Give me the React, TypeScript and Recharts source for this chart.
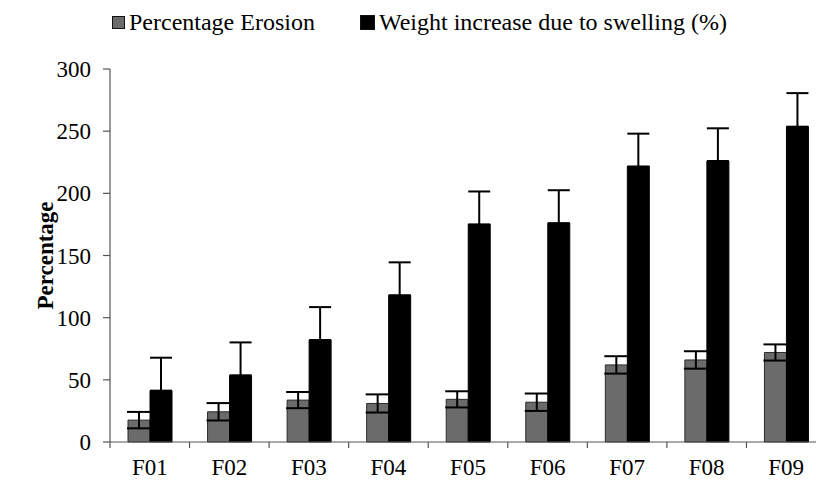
import { BarChart, Bar, XAxis, YAxis, ErrorBar, Legend, Label } from "recharts";

const categories = ["F01", "F02", "F03", "F04", "F05", "F06", "F07", "F08", "F09"];
const erosion = [17.6, 24.3, 33.7, 31, 34.3, 32, 62, 66, 72];
const erosionErr = [6.6, 7, 6.5, 7.3, 6.5, 7, 7, 7, 6.5];
const swelling = [41.3, 53.6, 82, 118, 175, 176, 221.6, 226, 253.6];
const swellingErr = [26.5, 26.5, 26.5, 26.5, 26.5, 26.5, 26.4, 26.3, 27];
const yTicks = [0, 50, 100, 150, 200, 250, 300];

const data = categories.map((name, i) => ({
  name,
  erosion: erosion[i],
  erosionErr: erosionErr[i],
  swelling: swelling[i],
  swellingErr: [0, swellingErr[i]],
}));

const FONT = '"Liberation Serif", "Times New Roman", serif';

function CategoryTick(props: any) {
  const { x, y, payload } = props;
  const half = payload && payload.offset ? payload.offset : 39.8;
  return (
    <g>
      <line x1={x - half} y1={y - 10} x2={x - half} y2={y - 4} stroke="#555" strokeWidth={1.2} />
      <text x={x} y={y + 23} textAnchor="middle" fontFamily={FONT} fontSize={23} fill="#000">
        {payload.value}
      </text>
    </g>
  );
}

function LegendContent(props: any) {
  const items = props.payload || [];
  return (
    <div style={{ display: "flex", alignItems: "center", paddingLeft: 112, fontFamily: FONT, fontSize: 24, color: "#000" }}>
      {items.map((it: any, i: number) => (
        <div key={i} style={{ display: "flex", alignItems: "center", marginRight: 45 }}>
          <span
            style={{
              display: "inline-block",
              width: i === 0 ? 11 : 13,
              height: i === 0 ? 11 : 13,
              background: it.color,
              border: "1px solid #111",
              marginRight: 4,
            }}
          />
          <span>{it.value}</span>
        </div>
      ))}
    </div>
  );
}

export default function App() {
  return (
    <div style={{ position: "absolute", left: 0, top: 0, width: 816, height: 480, overflow: "hidden", background: "#fff" }}>
      <BarChart
        width={836}
        height={480}
        data={data}
        margin={{ top: 42, right: 10, left: 0, bottom: 8 }}
        barSize={22}
        barGap={0}
      >
        <Legend verticalAlign="top" wrapperStyle={{ top: 9, left: 0 }} content={<LegendContent />} />
        <XAxis
          dataKey="name"
          height={30}
          axisLine={{ stroke: "#555", strokeWidth: 1.2 }}
          tickLine={false}
          tickSize={6}
          tickMargin={4}
          interval={0}
          tick={<CategoryTick />}
        />
        <YAxis
          width={110}
          domain={[0, 300]}
          ticks={yTicks}
          interval={0}
          axisLine={{ stroke: "#555", strokeWidth: 1.2 }}
          tickLine={{ stroke: "#555", strokeWidth: 1.2 }}
          tickSize={7}
          tickMargin={12}
          tick={{ fontFamily: FONT, fontSize: 23, fill: "#000" }}
        >
          <Label
            value="Percentage"
            angle={-90}
            position="center"
            dx={-10}
            style={{ fontFamily: FONT, fontSize: 23, fontWeight: "bold", fill: "#000", textAnchor: "middle" }}
          />
        </YAxis>
        <Bar dataKey="erosion" name="Percentage Erosion" fill="#6b6b6b" stroke="#2a2a2a" strokeWidth={1} isAnimationActive={false}>
          <ErrorBar dataKey="erosionErr" width={12} strokeWidth={2} stroke="#000" direction="y" />
        </Bar>
        <Bar dataKey="swelling" name="Weight increase due to swelling (%)" fill="#000" stroke="#000" isAnimationActive={false}>
          <ErrorBar dataKey="swellingErr" width={11} strokeWidth={2} stroke="#000" direction="y" />
        </Bar>
      </BarChart>
    </div>
  );
}
